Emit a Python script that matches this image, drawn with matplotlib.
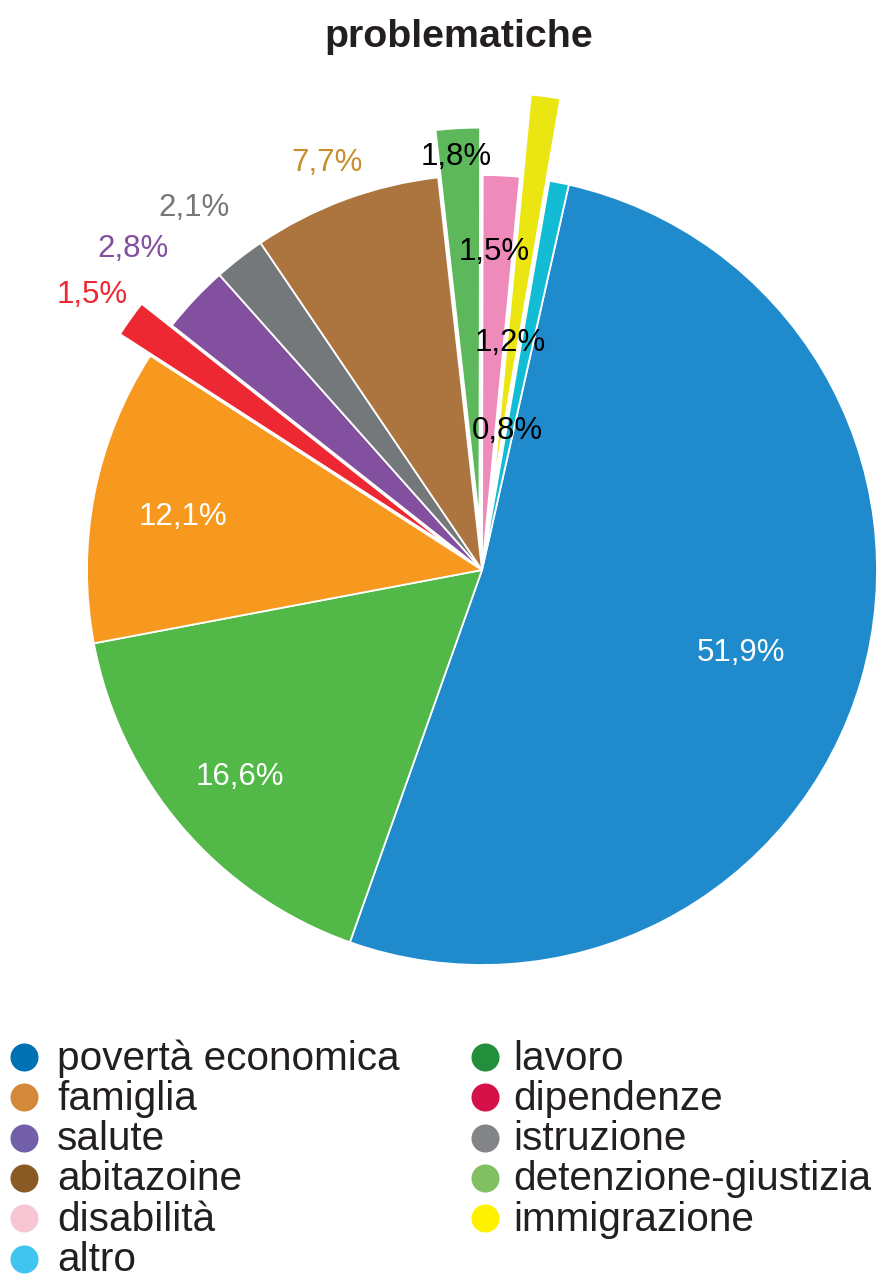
import matplotlib
matplotlib.use('Agg')
import matplotlib.pyplot as plt
import numpy as np

plt.rcParams['font.family'] = ['Liberation Sans', 'DejaVu Sans']

# slices, clockwise from the top edge of "povertà economica"
categorie = ['povertà economica', 'lavoro', 'famiglia', 'dipendenze', 'salute',
             'istruzione', 'abitazoine', 'detenzione-giustizia', 'disabilità',
             'immigrazione', 'altro']
percentuali = [51.9, 16.6, 12.1, 1.5, 2.8, 2.1, 7.7, 1.8, 1.5, 1.2, 0.8]

# legend columns
legenda_sx = ['povertà economica', 'famiglia', 'salute', 'abitazoine', 'disabilità', 'altro']
legenda_dx = ['lavoro', 'dipendenze', 'istruzione', 'detenzione-giustizia', 'immigrazione']

colori_fette = {
    'povertà economica': '#1f8bcc', 'lavoro': '#52b848', 'famiglia': '#f7991f',
    'dipendenze': '#ee2833', 'salute': '#8350a0', 'istruzione': '#75787b',
    'abitazoine': '#ac743f', 'detenzione-giustizia': '#5cb85a', 'disabilità': '#ee8bbb',
    'immigrazione': '#ebe612', 'altro': '#12bcd4',
}
colori_legenda = {
    'povertà economica': '#0072b3', 'famiglia': '#d4883a', 'salute': '#7160a8',
    'abitazoine': '#8a5a24', 'disabilità': '#f6c7d3', 'altro': '#3fc5f0',
    'lavoro': '#238e3c', 'dipendenze': '#d41249', 'istruzione': '#838488',
    'detenzione-giustizia': '#82bf63', 'immigrazione': '#fff100',
}
esplosi = {'dipendenze': 0.094, 'detenzione-giustizia': 0.12, 'immigrazione': 0.21}

# label placement: (distance / radius, angle shift in degrees, colour)
etichette = {
    'povertà economica': (0.686, -0.9, 'white'),
    'lavoro': (0.80, -0.6, 'white'),
    'famiglia': (0.77, 0.3, 'white'),
    'dipendenze': (1.12, 0.0, '#ee2833'),
    'salute': (1.205, 0.4, '#8350a0'),
    'istruzione': (1.178, 0.4, '#75787b'),
    'abitazoine': (1.111, 0.5, '#c98f2f'),
    'detenzione-giustizia': (0.9375, 0.5, 'black'),
    'disabilità': (0.815, 0.6, 'black'),
    'immigrazione': (0.379, 1.1, 'black'),
    'altro': (0.367, 1.1, 'black'),
}

W, H = 878, 1282
fig = plt.figure(figsize=(W / 100, H / 100), dpi=100)
ax = fig.add_axes([0, 0, 1, 1])

R = 395
cx, cy = 482, H - 570
wedges, _ = ax.pie(percentuali,
                   colors=[colori_fette[c] for c in categorie],
                   explode=[esplosi.get(c, 0) * R for c in categorie],
                   startangle=77.3, counterclock=False,
                   radius=R, center=(cx, cy),
                   wedgeprops=dict(edgecolor='white', linewidth=1.3))

for w, val, cat in zip(wedges, percentuali, categorie):
    d, dang, col = etichette[cat]
    ang = np.deg2rad((w.theta1 + w.theta2) / 2 + dang)
    x = w.center[0] + R * d * np.cos(ang)
    y = w.center[1] + R * d * np.sin(ang)
    ax.text(x, y, f'{val:.1f}%'.replace('.', ','), color=col, fontsize=22.5,
            ha='center', va='center_baseline')

ax.set_xlim(0, W)
ax.set_ylim(0, H)
ax.set_aspect('equal')
ax.axis('off')

ax.text(459, H - 46.7, 'problematiche', fontsize=28.4, fontweight='bold',
        color='#231f20', ha='center', va='baseline')

# legend, two columns: (marker x, text x)
riga0, passo = 1057, 40.3
for mark_x, text_x, voci in ((24, 57, legenda_sx), (485, 513, legenda_dx)):
    for i, voce in enumerate(voci):
        y = H - (riga0 + passo * i)
        ax.scatter([mark_x], [y], s=408, color=colori_legenda[voce], linewidths=0)
        ax.text(text_x, y - 12.5, voce, fontsize=29.2, color='#231f20',
                ha='left', va='baseline')

fig.savefig('out.png', dpi=100)
